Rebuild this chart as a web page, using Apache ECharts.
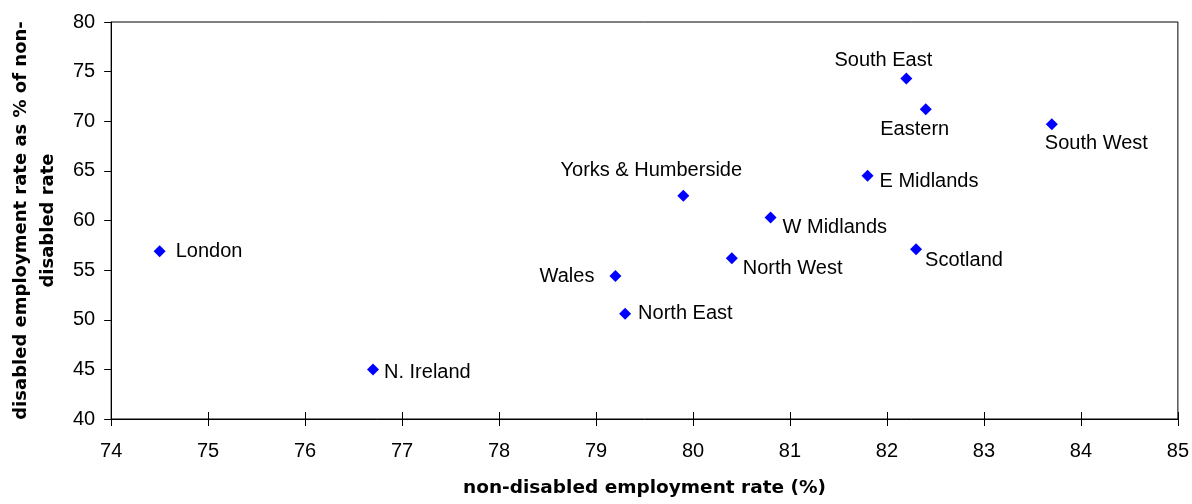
<!DOCTYPE html>
<html>
<head>
<meta charset="utf-8">
<script src="https://cdn.jsdelivr.net/npm/echarts@6/dist/echarts.min.js"></script>
<style>
html,body{margin:0;padding:0;background:#fff;}
#chart{width:1192px;height:504px;}
</style>
</head>
<body>
<div id="chart"></div>
<script>
// ---- data ----
const regions = ["London","N. Ireland","Wales","North East","Yorks & Humberside","North West","W Midlands","E Midlands","South East","Eastern","South West","Scotland"];
const nonDisabledRate = [74.5, 76.7, 79.2, 79.3, 79.9, 80.4, 80.8, 81.8, 82.2, 82.4, 83.7, 82.3];
const disabledRatio   = [56.9, 45.0, 54.4, 50.6, 62.5, 56.2, 60.3, 64.5, 74.3, 71.2, 69.7, 57.1];
const xTicks = [74, 75, 76, 77, 78, 79, 80, 81, 82, 83, 84, 85];
const yTicks = [40, 45, 50, 55, 60, 65, 70, 75, 80];
const xTitle = "non-disabled employment rate (%)";
const yTitle = "disabled employment rate as % of non-\ndisabled rate";

// ---- label placement (style only) ----
const labelPlacement = {
  "London":             {align: "left",   dx: 16,  dy: 0},
  "N. Ireland":         {align: "left",   dx: 11,  dy: 3},
  "Wales":              {align: "right",  dx: -21, dy: 0},
  "North East":         {align: "left",   dx: 13,  dy: 0},
  "Yorks & Humberside": {align: "center", dx: -32, dy: -25},
  "North West":         {align: "left",   dx: 11,  dy: 10},
  "W Midlands":         {align: "left",   dx: 12,  dy: 10},
  "E Midlands":         {align: "left",   dx: 12,  dy: 6},
  "South East":         {align: "center", dx: -23, dy: -18},
  "Eastern":            {align: "center", dx: -11, dy: 20},
  "South West":         {align: "left",   dx: -7,  dy: 19},
  "Scotland":           {align: "left",   dx: 9,   dy: 11}
};

const points = regions.map((name, i) => {
  const p = labelPlacement[name];
  return {
    name: name,
    value: [nonDisabledRate[i], disabledRatio[i]],
    label: {align: p.align, offset: [p.dx, p.dy]}
  };
});

const FONT = "'Liberation Sans', Arial, sans-serif";
const BOLD = "'DejaVu Sans', Verdana, sans-serif";

const chart = echarts.init(document.getElementById('chart'), null, {renderer: 'canvas'});
chart.setOption({
  animation: false,
  backgroundColor: '#ffffff',
  grid: {left: 110, right: 12, top: 22, bottom: 80, show: true, borderColor: '#000', borderWidth: 1, backgroundColor: 'transparent'},
  xAxis: [{
    type: 'value', position: 'bottom',
    min: xTicks[0], max: xTicks[xTicks.length - 1], interval: 1,
    name: xTitle, nameLocation: 'middle', nameGap: 58,
    nameTextStyle: {fontFamily: BOLD, fontWeight: 'bold', fontSize: 18.5, color: '#000', lineHeight: 22},
    axisLine: {show: true, lineStyle: {color: '#000', width: 1}},
    axisTick: {show: true, inside: false, length: 7, lineStyle: {color: '#000'}},
    axisLabel: {fontFamily: FONT, fontSize: 20, color: '#000', margin: 22, lineHeight: 20},
    splitLine: {show: false}
  }, {
    type: 'value', position: 'bottom', gridIndex: 0,
    min: xTicks[0], max: xTicks[xTicks.length - 1], interval: 1,
    axisLine: {show: false},
    axisTick: {show: true, inside: true, length: 7, lineStyle: {color: '#000'}},
    axisLabel: {show: false},
    splitLine: {show: false}
  }],
  yAxis: {
    type: 'value', position: 'left',
    min: yTicks[0], max: yTicks[yTicks.length - 1], interval: 5,
    name: yTitle, nameLocation: 'middle', nameGap: 44,
    nameTextStyle: {fontFamily: BOLD, fontWeight: 'bold', fontSize: 18, color: '#000', lineHeight: 27, align: 'center'},
    axisLine: {show: true, lineStyle: {color: '#000', width: 1}},
    axisTick: {show: true, inside: false, length: 7, lineStyle: {color: '#000'}},
    axisLabel: {fontFamily: FONT, fontSize: 20, color: '#000', margin: 16},
    splitLine: {show: false}
  },
  series: [{
    type: 'scatter',
    xAxisIndex: 0, yAxisIndex: 0,
    symbol: 'diamond',
    symbolSize: 12,
    itemStyle: {color: '#0000ff', opacity: 1},
    label: {
      show: true,
      position: 'inside',
      verticalAlign: 'middle',
      formatter: '{b}',
      fontFamily: FONT, fontSize: 20, color: '#000', opacity: 1
    },
    emphasis: {disabled: true},
    data: points
  }]
});
</script>
</body>
</html>
